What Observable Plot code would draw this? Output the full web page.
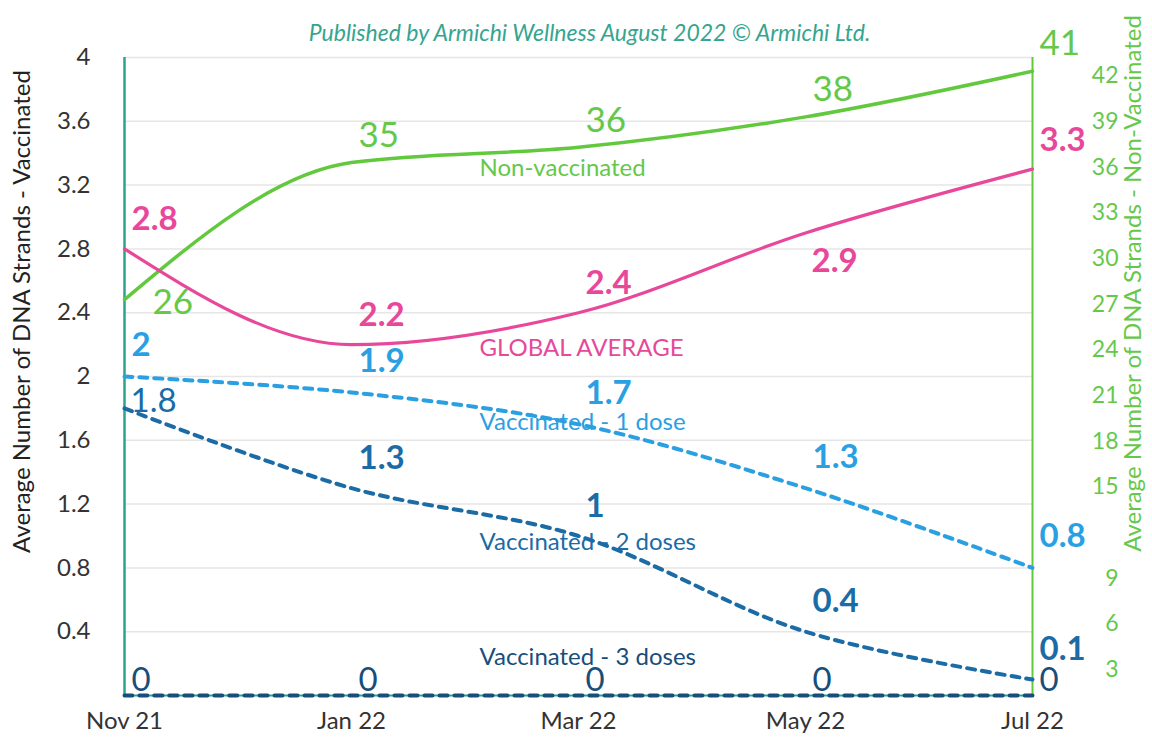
<!DOCTYPE html>
<html>
<head>
<meta charset="utf-8">
<script src="https://cdn.jsdelivr.net/npm/d3@7"></script>
<script src="https://cdn.jsdelivr.net/npm/@observablehq/plot@0.6"></script>
<style>
  html, body { margin: 0; padding: 0; background: #fff; }
  #chart svg { display: block; overflow: visible; }
</style>
</head>
<body>
<div id="chart"></div>
<script>
// ---- data ----
const months = ["Nov 21", "Jan 22", "Mar 22", "May 22", "Jul 22"];
const globalAvg = [2.8, 2.2, 2.4, 2.9, 3.3];
const nonVaccinated = [26, 35, 36, 38, 41];
const vacc1 = [2, 1.9, 1.7, 1.3, 0.8];
const vacc2 = [1.8, 1.3, 1, 0.4, 0.1];
const vacc3 = [0, 0, 0, 0, 0];
const leftTicks = [0.4, 0.8, 1.2, 1.6, 2, 2.4, 2.8, 3.2, 3.6, 4];
const rightTicks = [3, 6, 9, 15, 18, 21, 24, 27, 30, 33, 36, 39, 42];
const seriesNames = ["Non-vaccinated", "GLOBAL AVERAGE", "Vaccinated - 1 dose", "Vaccinated - 2 doses", "Vaccinated - 3 doses"];
const title = "Published by Armichi Wellness August 2022 © Armichi Ltd.";
const leftTitle = "Average Number of DNA Strands - Vaccinated";
const rightTitle = "Average Number of DNA Strands - Non-Vaccinated";

// secondary (non-vaccinated) scale mapped onto the primary 0..4 scale
const rightMax = 41.9;
const k = 4 / rightMax;
const rightAxisShift = 1.3;

const mk = (vals, f = v => v) => months.map((m, i) => ({month: m, value: vals[i], y: f(vals[i]), i}));
const dGlobal = mk(globalAvg);
const dNon = mk(nonVaccinated, v => v * k);
const dV1 = mk(vacc1);
const dV2 = mk(vacc2);
const dV3 = mk(vacc3);

const C = {
  green: "#62c93e", pink: "#e8489a", blue1: "#2a9fe2", blue2: "#1a6ba6",
  navy: "#174e7a", teal: "#2aa38f", greenText: "#66c84a"
};
const FONT = "Lato, 'Open Sans', sans-serif";
const lineOpts = {x: "month", y: "y", curve: "monotone-x"};
const dashOpts = {x: "month", y: "y", curve: "catmull-rom", strokeWidth: 4, strokeDasharray: "8,7"};
const labelBase = {x: "month", y: "y", text: d => String(d.value), textAnchor: "start", fontFamily: FONT, fontSize: 33};
const nameOpts = {text: d => d, textAnchor: "start", dx: -99, fontSize: 24, fontFamily: FONT};

const chart = Plot.plot({
  width: 1152,
  height: 742,
  marginTop: 57,
  marginBottom: 47,
  marginLeft: 124,
  marginRight: 120,
  style: {fontFamily: FONT, background: "#fff", overflow: "visible"},
  x: {type: "point", domain: months, padding: 0},
  y: {domain: [0, 4]},
  marks: [
    Plot.gridY(leftTicks, {stroke: "#e6e6e6", strokeOpacity: 1, strokeWidth: 1.5}),
    Plot.axisY(leftTicks, {anchor: "left", tickSize: 0, tickPadding: 34, fontSize: 24, fill: "#333", label: null,
      tickFormat: d => String(+d.toFixed(1))}),
    Plot.axisY(rightTicks.map(v => (v - rightAxisShift) * k), {
      anchor: "right", tickSize: 0, tickPadding: 0, dx: 86, textAnchor: "end", fontSize: 23,
      fill: C.greenText, label: null, tickFormat: d => String(Math.round(d / k + rightAxisShift))
    }),
    Plot.axisX({tickSize: 0, tickPadding: 16, fontSize: 24, fill: "#333", label: null}),
    Plot.ruleY([0], {stroke: C.teal, strokeWidth: 2}),
    Plot.ruleX([months[0]], {stroke: C.teal, strokeWidth: 2.5}),
    Plot.ruleX([months[months.length - 1]], {stroke: C.green, strokeWidth: 2}),
    // lines
    Plot.line(dNon, {...lineOpts, stroke: C.green, strokeWidth: 3.5}),
    Plot.line(dGlobal, {...lineOpts, stroke: C.pink, strokeWidth: 3.2}),
    Plot.line(dV1, {...dashOpts, stroke: C.blue1}),
    Plot.line(dV2, {...dashOpts, stroke: C.blue2}),
    Plot.line(dV3, {...dashOpts, stroke: C.navy}),
    // data labels
    Plot.text(dNon, {...labelBase, fill: C.greenText, fontWeight: 400, fontSize: 35,
      dx: 7, dy: -27, filter: d => d.i > 0}),
    Plot.text(dNon, {...labelBase, fill: C.greenText, fontWeight: 400, fontSize: 35,
      dx: 28, dy: 3, filter: d => d.i === 0}),
    Plot.text(dGlobal, {...labelBase, fill: C.pink, fontWeight: 700, dx: 7, dy: -29, filter: d => d.i !== 3}),
    Plot.text(dGlobal, {...labelBase, fill: C.pink, fontWeight: 700, dx: 6, dy: 28, filter: d => d.i === 3}),
    Plot.text(dV1, {...labelBase, fill: C.blue1, fontWeight: 700, dx: 7, dy: -31}),
    Plot.text(dV2, {...labelBase, fill: C.blue2, fontWeight: 700, dx: 7, dy: -30, filter: d => d.i > 0}),
    Plot.text(dV2, {...labelBase, fill: C.blue2, fontWeight: 400, dx: 6, dy: -7, filter: d => d.i === 0}),
    Plot.text(dV3, {...labelBase, fill: C.navy, fontWeight: 400, dx: 7, dy: -15}),
    // series names
    Plot.text([seriesNames[0]], {...nameOpts, x: () => months[2], y: () => dNon[2].y, dy: 21, fill: C.greenText}),
    Plot.text([seriesNames[1]], {...nameOpts, x: () => months[2], y: () => dGlobal[2].y, dy: 36, fill: C.pink}),
    Plot.text([seriesNames[2]], {...nameOpts, x: () => months[2], y: () => dV1[2].y, dy: -2, fill: C.blue1}),
    Plot.text([seriesNames[3]], {...nameOpts, x: () => months[2], y: () => dV2[2].y, dy: 6, fill: C.blue2}),
    Plot.text([seriesNames[4]], {...nameOpts, x: () => months[2], y: () => dV3[2].y, dy: -38, fill: C.navy}),
    // titles
    Plot.text([title], {frameAnchor: "top", text: d => d, textAnchor: "middle", lineAnchor: "middle",
      dx: 11, dy: -24, fill: "#35a58f", fontStyle: "italic", fontSize: 23, fontFamily: FONT}),
    Plot.text([leftTitle], {frameAnchor: "top-left", text: d => d, textAnchor: "middle", lineAnchor: "middle",
      dx: -102, dy: 254, rotate: -90, fill: "#222", fontSize: 24, fontFamily: FONT}),
    Plot.text([rightTitle], {frameAnchor: "top-right", text: d => d, textAnchor: "middle", lineAnchor: "middle",
      dx: 101, dy: 226, rotate: -90, fill: C.greenText, fontSize: 24, fontFamily: FONT})
  ]
});
document.getElementById("chart").appendChild(chart);
</script>
</body>
</html>
